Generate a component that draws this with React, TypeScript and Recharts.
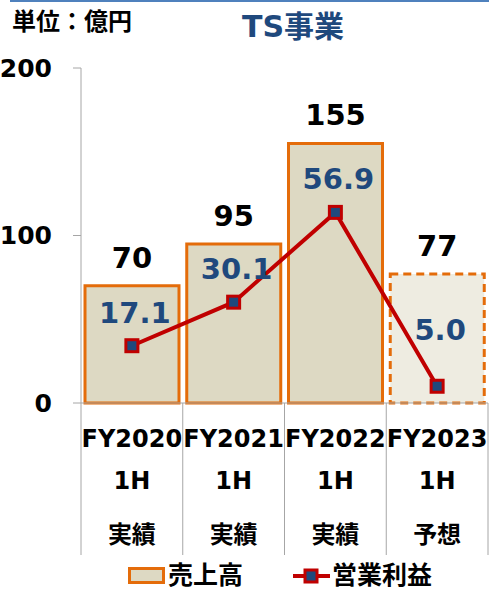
import { ComposedChart, Bar, Line, XAxis, YAxis, Cell, LabelList, Legend } from "recharts";

const W = 489;
const H = 591;

const categories = ["FY2020", "FY2021", "FY2022", "FY2023"];
const periods = ["1H", "1H", "1H", "1H"];
const kinds = ["実績", "実績", "実績", "予想"];
const sales = [70, 95, 155, 77];
const profit = [17.1, 30.1, 56.9, 5.0];
const isForecast = [false, false, false, true];
const salesTicks = [0, 100, 200];

const data = categories.map((name, i) => ({
  name,
  period: periods[i],
  kind: kinds[i],
  sales: sales[i],
  profit: profit[i],
}));

const FONT = "'DejaVu Sans', 'Noto Sans CJK JP', sans-serif";
const JP = "'Noto Sans CJK JP', 'DejaVu Sans', sans-serif";
const ORANGE = "#e46c0a";
const RED = "#c00000";
const NAVY = "#1f497d";
const GRID = "#a6a6a6";

const MARGIN = { top: 68, right: 1, bottom: 36, left: 0 };
const Y_WIDTH = 81;
const BAND = (W - Y_WIDTH - MARGIN.right) / categories.length;
const X_HEIGHT = 152;

function CategoryTick(props: any) {
  const { x, y, index } = props;
  const d = data[index];
  const half = BAND / 2;
  const last = index === data.length - 1;
  return (
    <g>
      <line x1={x - half} x2={x - half} y1={y} y2={y + X_HEIGHT} stroke={GRID} />
      {last && <line x1={x + half} x2={x + half} y1={y} y2={y + X_HEIGHT} stroke={GRID} />}
      <text x={x} y={y + 44} textAnchor="middle" fontSize={24} fontWeight="bold" fontFamily={FONT} fill="#000">
        {d.name}
      </text>
      <text x={x} y={y + 86} textAnchor="middle" fontSize={24} fontWeight="bold" fontFamily={FONT} fill="#000">
        {d.period}
      </text>
      <text x={x} y={y + 140} textAnchor="middle" fontSize={24} fontWeight="bold" fontFamily={JP} fill="#000">
        {d.kind}
      </text>
    </g>
  );
}

function SquareDot(props: any) {
  const { cx, cy, index } = props;
  if (cx == null || cy == null) return null;
  return (
    <rect key={`dot-${index}`} x={cx - 6} y={cy - 6} width={12} height={12} fill={NAVY} stroke={RED} strokeWidth={3} />
  );
}

function ProfitLabel(props: any) {
  const { x, y, value } = props;
  // small value sits inside its bar a bit higher, like the source
  const lift = value < 10 ? 46 : 23;
  return (
    <text x={x + 3} y={y - lift} textAnchor="middle" fontSize={29} fontWeight="bold" fontFamily={FONT} fill={NAVY}>
      {Number(value).toFixed(1)}
    </text>
  );
}

function LegendContent(props: any) {
  const payload = props.payload || [];
  const barItem = payload.find((p: any) => p.dataKey === "sales");
  const lineItem = payload.find((p: any) => p.dataKey === "profit");
  return (
    <svg width={W} height={36} style={{ display: "block", overflow: "visible" }}>
      <rect x={129.5} y={17.5} width={34} height={14} fill="#ddd9c3" stroke={ORANGE} strokeWidth={3} />
      <text x={168} y={33} fontSize={25} fontWeight="bold" fontFamily={JP} fill="#000">
        {barItem ? barItem.value : "売上高"}
      </text>
      <line x1={293} x2={330} y1={25} y2={25} stroke={RED} strokeWidth={4} />
      <rect x={305} y={19} width={12} height={12} fill={NAVY} stroke={RED} strokeWidth={3} />
      <text x={332} y={33} fontSize={25} fontWeight="bold" fontFamily={JP} fill="#000">
        {lineItem ? lineItem.value : "営業利益"}
      </text>
    </svg>
  );
}

export default function App() {
  return (
    <div
      style={{
        position: "absolute",
        left: 0,
        top: 0,
        width: W,
        height: H,
        overflow: "hidden",
        background: "#fff",
        fontFamily: FONT,
      }}
    >
      <div style={{ position: "absolute", left: 10, top: 0, width: W - 10, height: 2, background: "#4f81bd" }} />
      <div
        style={{
          position: "absolute",
          left: 12,
          top: 5,
          fontSize: 24,
          fontWeight: "bold",
          fontFamily: JP,
          color: "#000",
          lineHeight: "30px",
          zIndex: 2,
        }}
      >
        単位：億円
      </div>
      <div
        style={{
          position: "absolute",
          left: 193,
          top: 8,
          width: 200,
          textAlign: "center",
          fontSize: 30,
          fontWeight: "bold",
          fontFamily: FONT,
          color: NAVY,
          lineHeight: "38px",
          zIndex: 2,
        }}
      >
        TS事業
      </div>

      <ComposedChart width={W} height={H} data={data} margin={MARGIN} barCategoryGap={4}>
        <XAxis
          dataKey="name"
          xAxisId={0}
          height={X_HEIGHT}
          tickLine={false}
          tickSize={0}
          tickMargin={0}
          interval={0}
          axisLine={{ stroke: GRID }}
          tick={<CategoryTick />}
        />
        <YAxis
          yAxisId="sales"
          domain={[0, 200]}
          ticks={salesTicks}
          interval={0}
          width={Y_WIDTH}
          tickSize={8}
          tickMargin={21}
          axisLine={{ stroke: GRID }}
          tickLine={{ stroke: GRID }}
          tick={{ fontSize: 25, fontWeight: "bold", fontFamily: FONT, fill: "#000" }}
        />
        <YAxis yAxisId="profit" orientation="right" domain={[0, 100]} hide />
        <Bar
          yAxisId="sales"
          dataKey="sales"
          name="売上高"
          fill="#ddd9c3"
          stroke={ORANGE}
          strokeWidth={3}
          isAnimationActive={false}
        >
          {data.map((d, i) => (
            <Cell
              key={d.name}
              fill={isForecast[i] ? "#eeece1" : "#ddd9c3"}
              stroke={ORANGE}
              strokeWidth={3}
              strokeDasharray={isForecast[i] ? "8 5" : undefined}
            />
          ))}
          <LabelList
            dataKey="sales"
            position="top"
            offset={18}
            style={{ fontSize: 29, fontWeight: "bold", fontFamily: FONT, fill: "#000" }}
          />
        </Bar>
        <Line
          yAxisId="profit"
          dataKey="profit"
          name="営業利益"
          type="linear"
          stroke={RED}
          strokeWidth={4}
          dot={<SquareDot />}
          activeDot={false}
          isAnimationActive={false}
        >
          <LabelList dataKey="profit" content={<ProfitLabel />} />
        </Line>
        <Legend
          layout="horizontal"
          verticalAlign="middle"
          align="center"
          content={<LegendContent />}
          wrapperStyle={{ top: 551, left: 0, width: W, height: 36 }}
        />
      </ComposedChart>
    </div>
  );
}
